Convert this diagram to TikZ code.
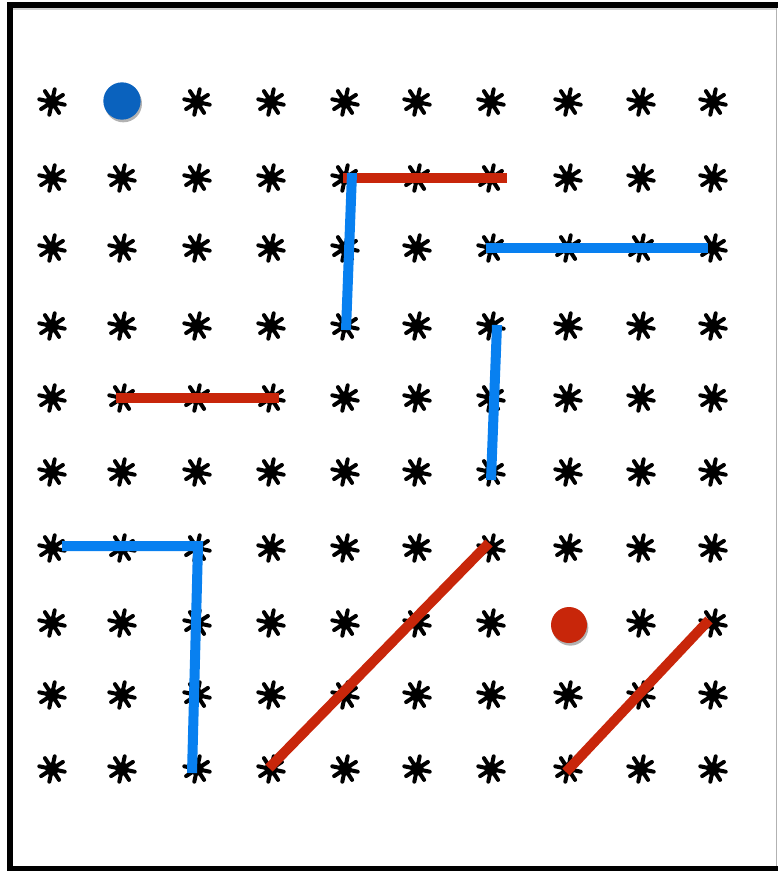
\documentclass[tikz,border=0pt]{standalone}
\usetikzlibrary{shadows}
\definecolor{dotblue}{RGB}{10,98,190}
\definecolor{lineblue}{RGB}{8,128,240}
\definecolor{linered}{RGB}{200,38,10}
\tikzset{
  starpic/.pic={
    \fill (0,0) circle[radius=5pt];
    \foreach \a in {0,45,...,315}{\draw[line width=3pt,line cap=round] (0,0) -- (\a+12:13);}
  },
  seg/.style={line width=7.5pt},
  bluesg/.style={seg,draw=lineblue},
  redsg/.style={seg,draw=linered},
  peg/.style={circle,minimum size=28pt,inner sep=0pt,
    drop shadow={shadow xshift=1pt,shadow yshift=-2pt,opacity=0.3,fill=black}},
  frameband/.style={fill=black}
}
\begin{document}
\begin{tikzpicture}[x=0.75pt,y=-0.75pt]
\useasboundingbox (0,0) rectangle (778,871);
\fill[white] (0,0) rectangle (778,871);
% frame
\fill[gray!35] (13,7.5) rectangle (776,10);
\fill[frameband] (7,1.5) rectangle (778,7.5);
\fill[frameband] (7,1.5) rectangle (13,871);
\fill[frameband] (7,865.5) rectangle (778,871);
\fill[gray!60] (775.8,7.5) rectangle (777.2,865.5);
% stars
\foreach \yy [count=\r] in {102,178,248,326,398,472,548,623,695,769}{
  \foreach \xx [count=\c] in {52,122,197,271,345,417,491,568,641,713}{
    \coordinate (s-\r-\c) at (\xx,\yy);
    \ifnum\r\c=12 \else\ifnum\r\c=88 \else
      \pic at (s-\r-\c) {starpic};
    \fi\fi
  }
}
% line endpoints
\coordinate (rt-a) at (343,178);
\coordinate (rt-b) at (507,178);
\coordinate (bv1-a) at (352,173);
\coordinate (bv1-b) at (346,330);
\coordinate (bh1-a) at (486,248);
\coordinate (bh1-b) at (708,248);
\coordinate (bv2-a) at (497,325);
\coordinate (bv2-b) at (491,480);
\coordinate (rm-a) at (116,398);
\coordinate (rm-b) at (279,398);
\coordinate (bl-a) at (62,546);
\coordinate (bl-c) at (198,546);
\coordinate (bl-b) at (192,773);
\coordinate (rd1-a) at (269,768);
\coordinate (rd1-b) at (489,543);
\coordinate (rd2-a) at (566,772);
\coordinate (rd2-b) at (709,620);
% segments
\draw[redsg] (rt-a) -- (rt-b);
\draw[bluesg] (bv1-a) -- (bv1-b);
\draw[bluesg] (bh1-a) -- (bh1-b);
\draw[bluesg] (bv2-a) -- (bv2-b);
\draw[redsg] (rm-a) -- (rm-b);
\draw[bluesg,line join=miter] (bl-a) -- (bl-c) -- (bl-b);
\draw[redsg] (rd1-a) -- (rd1-b);
\draw[redsg] (rd2-a) -- (rd2-b);
% pegs
\node[peg,fill=dotblue] (bluedot) at (122,101) {};
\node[peg,fill=linered,minimum size=27pt] (reddot) at (569,625) {};
\end{tikzpicture}
\end{document}
